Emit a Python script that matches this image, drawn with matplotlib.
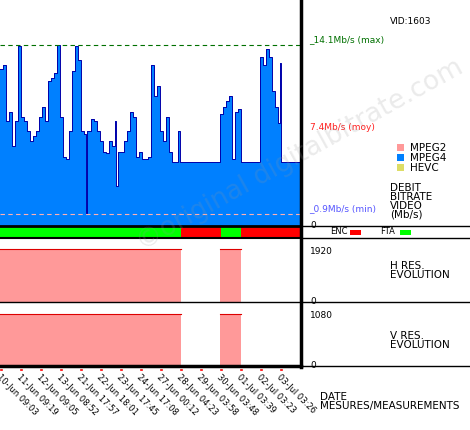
import numpy as np
import matplotlib
matplotlib.use("Agg")
import matplotlib.pyplot as plt
from matplotlib.patches import Rectangle

W, H = 470, 430

# bitrate samples: x position (0..300 timeline units), value in Mb/s
rate_x = [0, 3, 6, 9, 12, 15, 18, 21, 24, 27, 30, 33, 36, 39, 42, 45, 48, 51, 54, 57,
          60, 63, 66, 69, 72, 75, 78, 81, 84, 86, 87, 88, 91, 94, 97, 100, 103, 106, 109, 112,
          115, 116, 118, 121, 124, 127, 130, 133, 136, 139, 142, 145, 148, 151, 154, 157, 160, 163, 166, 169,
          172, 175, 178, 180, 181, 220, 223, 226, 229, 232, 235, 238, 241, 260, 263, 266, 269, 272, 275, 278,
          280, 281, 300]
rate_v = [12.2, 12.5, 8.2, 8.9, 6.2, 8.2, 14.0, 8.5, 8.2, 7.4, 6.6, 7.0, 7.4, 8.5, 9.3, 8.2, 11.3, 11.5, 11.9, 14.1,
          8.5, 5.4, 5.2, 7.4, 12.1, 14.0, 12.9, 7.4, 7.2, 0.9, 7.4, 7.4, 8.3, 8.2, 7.4, 6.6, 5.8, 5.7, 6.6, 6.2,
          8.2, 3.1, 5.8, 5.8, 6.6, 7.4, 8.9, 8.5, 5.4, 5.8, 5.2, 5.2, 5.4, 12.5, 10.1, 10.9, 7.4, 6.6, 8.5, 5.8,
          5.0, 5.0, 7.4, 5.0, 5.0, 8.7, 9.3, 9.7, 10.1, 5.2, 8.9, 9.1, 5.0, 13.2, 12.5, 13.8, 13.2, 10.5, 9.3, 8.0,
          12.7, 5.0, 5.0]
rate_max, rate_avg, rate_min = 14.1, 7.4, 0.9

# encryption status segments (start, end, encrypted)
enc_segments = [(0, 181, False), (181, 221, True), (221, 241, False), (241, 300, True)]
# resolution segments (start, end, width, height)
res_segments = [(0, 181, 1920, 1080), (220, 241, 1920, 1080)]

date_labels = ["10-Jun 09:03", "11-Jun 09:19", "12-Jun 09:05", "13-Jun 08:52", "21-Jun 17:57",
               "22-Jun 18:01", "23-Jun 17:45", "24-Jun 17:08", "27-Jun 00:12", "28-Jun 04:23",
               "29-Jun 03:58", "30-Jun 03:48", "01-Jul 03:39", "02-Jul 03:23", "03-Jul 03:26"]

fig = plt.figure(figsize=(W / 100, H / 100), dpi=100)


def px_axes(x0, y0, x1, y1):
    return fig.add_axes([x0 / W, 1 - y1 / H, (x1 - x0) / W, (y1 - y0) / H])


# bitrate panel
ax = px_axes(0, 0, 300, 226)
ax.set_facecolor("#dcdcdc")
ax.fill_between(rate_x, rate_v, step="post", color="#0080ff", lw=0)
ax.step(rate_x, rate_v, where="post", color="#0000aa", lw=0.7)
ax.axhline(rate_max, color="#007000", ls=(0, (4, 3)), lw=0.8)
ax.axhline(rate_min, color="#ffb0b0", ls=(0, (4, 3)), lw=0.8)
ax.set_xlim(0, 300)
ax.set_ylim(0, 17.6)
ax.axis("off")

# status bar
ax_s = px_axes(0, 227, 300, 237)
for s, e, enc in enc_segments:
    ax_s.axvspan(s, e, color="#ff0000" if enc else "#00ff00", lw=0)
ax_s.set_xlim(0, 300)
ax_s.axis("off")

# resolution panels
ax_h = px_axes(0, 238, 300, 302)
ax_v = px_axes(0, 303, 300, 366)
for a, idx, top in ((ax_h, 2, 2300), (ax_v, 3, 1300)):
    for seg in res_segments:
        a.fill_between([seg[0], seg[1]], [seg[idx]] * 2, color="#ff9999", lw=0)
        a.plot([seg[0], seg[1]], [seg[idx]] * 2, color="#dd0000", lw=0.8)
    a.set_xlim(0, 300)
    a.set_ylim(0, top)
    a.axis("off")

# overlay in pixel coordinates for frame and texts
ov = fig.add_axes([0, 0, 1, 1], zorder=5)
ov.set_xlim(0, W)
ov.set_ylim(H, 0)
ov.axis("off")
ov.patch.set_alpha(0)

k = dict(color="black", lw=1)
ov.plot([301, 301], [0, 367], color="black", lw=2.5)
ov.plot([0, 301], [226, 226], color="black", lw=2)
ov.plot([0, 301], [238, 238], color="black", lw=1.5)
ov.plot([0, 301], [366, 366], color="black", lw=2.5)
for y in (226, 238, 302, 366):
    ov.plot([301, 470], [y, y], **k)
ov.plot([0, 301], [302, 302], **k)

fs = 6.5
ov.text(309, 44, "_14.1Mb/s (max)", color="#007000", fontsize=fs, va="bottom")
ov.text(310, 127, "7.4Mb/s (moy)", color="#ff2020", fontsize=fs, va="center")
ov.text(309, 213, "_0.9Mb/s (min)", color="#5555ff", fontsize=fs, va="bottom")
for y, t in ((226, "0"), (251, "1920"), (302, "0"), (315, "1080"), (366, "0")):
    ov.text(310, y, t, fontsize=fs, va="center")
ov.text(390, 22, "VID:1603", fontsize=fs, va="center")

for i, (lab, col) in enumerate((("MPEG2", "#ff9999"), ("MPEG4", "#0080ff"), ("HEVC", "#dddd66"))):
    y = 148 + i * 10
    ov.add_patch(Rectangle((397, y - 4), 7, 7, color=col, lw=0))
    ov.text(410, y, lab, fontsize=7.5, va="center")

ov.text(390, 183, "DEBIT\nBITRATE\nVIDEO\n(Mb/s)", fontsize=7.5, va="top", linespacing=0.85)
ov.text(330, 232, "ENC", fontsize=6, va="center")
ov.add_patch(Rectangle((350, 230), 11, 5, color="#ff0000", lw=0))
ov.text(380, 232, "FTA", fontsize=6, va="center")
ov.add_patch(Rectangle((400, 230), 11, 5, color="#00ff00", lw=0))
ov.text(390, 261, "H RES.\nEVOLUTION", fontsize=7.5, va="top", linespacing=0.85)
ov.text(390, 331, "V RES.\nEVOLUTION", fontsize=7.5, va="top", linespacing=0.85)
ov.text(320, 392, "DATE\nMESURES/MEASUREMENTS", fontsize=7.5, va="top", linespacing=0.85)

for i, lab in enumerate(date_labels):
    x = i * 20
    ov.plot([x + 0.5, x + 1.5], [370, 370], color="red", lw=1.2)
    ov.text(x + 1, 373, lab, fontsize=6, rotation=-45, rotation_mode="anchor",
            ha="left", va="top")

ov.text(300, 155, "©original digitalbitrate.com", fontsize=19, rotation=29,
        color="#999999", alpha=0.2, ha="center", va="center")

fig.savefig("out.png", dpi=100)
